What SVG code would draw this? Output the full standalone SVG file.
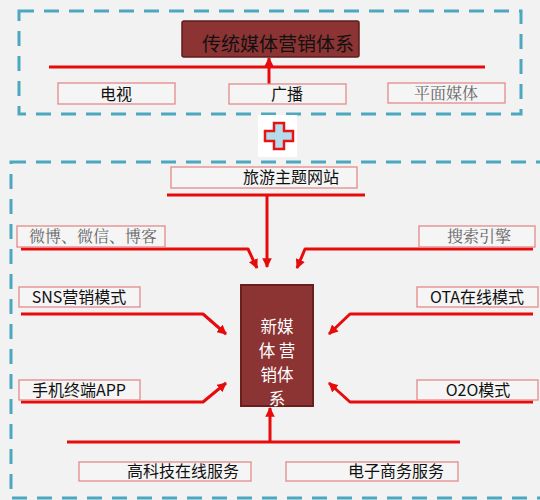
<svg xmlns="http://www.w3.org/2000/svg" width="540" height="500" viewBox="0 0 540 500">
<defs>
<style>
.dash{fill:none;stroke:#4ba8bf;stroke-width:3;stroke-dasharray:15 10}
.box{fill:#f5f5f5;stroke:#e38a8a;stroke-width:1.3}
.ln{fill:none;stroke:#e80b0b;stroke-width:3;stroke-linejoin:round}
.t{font-family:"Noto Sans CJK SC","Noto Sans",sans-serif;font-size:16px;fill:#111;text-anchor:middle}
.g{font-family:"Noto Serif CJK SC","Noto Sans CJK SC",serif;font-size:16px;fill:#666;text-anchor:middle}
.w{font-family:"Noto Sans CJK SC","Noto Sans",sans-serif;font-size:16.5px;fill:#ffffff;text-anchor:middle}
.core{fill:#8c3333;stroke:#6a1f1f;stroke-width:2}
</style>
<marker id="ah" viewBox="0 0 10 10" refX="9" refY="5" markerWidth="3.2" markerHeight="3.2" orient="auto" markerUnits="strokeWidth">
<path d="M0,0 L10,5 L0,10 Z" fill="#e80b0b"/>
</marker>
</defs>
<rect width="540" height="500" fill="#f2f2f2"/>
<rect class="dash" x="19" y="11" width="502" height="103"/>
<rect class="dash" x="11" y="162" width="540" height="336"/>

<g id="plus">
<rect x="258" y="115" width="39" height="42" fill="#ffffff"/>
<path d="M274,123 H284 V131 H293 V141 H284 V149 H274 V141 H265 V131 H274 Z" fill="#b5dcea" stroke="#e61515" stroke-width="2.5"/>
</g>

<g id="connectors">
<line class="ln" x1="49" y1="67" x2="485" y2="67"/>
<line class="ln" x1="269" y1="96" x2="269" y2="58" marker-end="url(#ah)"/>
<line class="ln" x1="167" y1="195" x2="365" y2="195"/>
<line class="ln" x1="267" y1="195" x2="267" y2="267" marker-end="url(#ah)"/>
<polyline class="ln" points="21,249 248,249 257,268" marker-end="url(#ah)"/>
<polyline class="ln" points="21,314 203,314 226,334" marker-end="url(#ah)"/>
<polyline class="ln" points="21,402 203,402 226,383" marker-end="url(#ah)"/>
<polyline class="ln" points="533,249 305,249 297,268" marker-end="url(#ah)"/>
<polyline class="ln" points="533,314 350,314 329,334" marker-end="url(#ah)"/>
<polyline class="ln" points="533,402 350,402 329,383" marker-end="url(#ah)"/>
<line class="ln" x1="67" y1="442" x2="460" y2="442"/>
<line class="ln" x1="270" y1="442" x2="270" y2="408" marker-end="url(#ah)"/>
</g>

<g id="title">
<rect x="182" y="21" width="177" height="36" rx="2" fill="#8c3333" stroke="#5e1c1c" stroke-width="1.5"/>
<text class="t" x="278" y="51" style="font-size:19px">传统媒体营销体系</text>
</g>
<g id="tv"><rect class="box" x="58" y="83" width="117" height="21"/><text class="t" x="116" y="100">电视</text></g>
<g id="radio"><rect class="box" x="229" y="84" width="117" height="20"/><text class="t" x="287" y="100">广播</text></g>
<g id="print"><rect class="box" x="388" y="83" width="117" height="20"/><text class="g" x="446" y="99">平面媒体</text></g>

<g id="travel"><rect class="box" x="171" y="167" width="186" height="21"/><text class="t" x="291" y="183">旅游主题网站</text></g>
<g id="weibo"><rect class="box" x="17" y="226" width="148" height="21"/><text class="g" x="93" y="242">微博、微信、博客</text></g>
<g id="sns"><rect class="box" x="19" y="287" width="121" height="20"/><text class="t" x="79" y="303">SNS营销模式</text></g>
<g id="app"><rect class="box" x="19" y="380" width="121" height="20"/><text class="t" x="79" y="396">手机终端APP</text></g>
<g id="search"><rect class="box" x="419" y="226" width="116" height="21"/><text class="g" x="479" y="242">搜索引擎</text></g>
<g id="ota"><rect class="box" x="417" y="287" width="121" height="20"/><text class="t" x="477" y="303">OTA在线模式</text></g>
<g id="o2o"><rect class="box" x="417" y="380" width="121" height="20"/><text class="t" x="478" y="396">O2O模式</text></g>
<g id="hitech"><rect class="box" x="79" y="462" width="172" height="19"/><text class="t" x="183" y="477">高科技在线服务</text></g>
<g id="ecom"><rect class="box" x="286" y="462" width="172" height="19"/><text class="t" x="396" y="477">电子商务服务</text></g>

<g id="core">
<rect class="core" x="241" y="285" width="72" height="121"/>
<text class="w" x="277" y="333">新媒</text>
<text class="w" x="277" y="357">体 营</text>
<text class="w" x="277" y="381">销体</text>
<text class="w" x="277" y="405">系</text>
</g>
</svg>
